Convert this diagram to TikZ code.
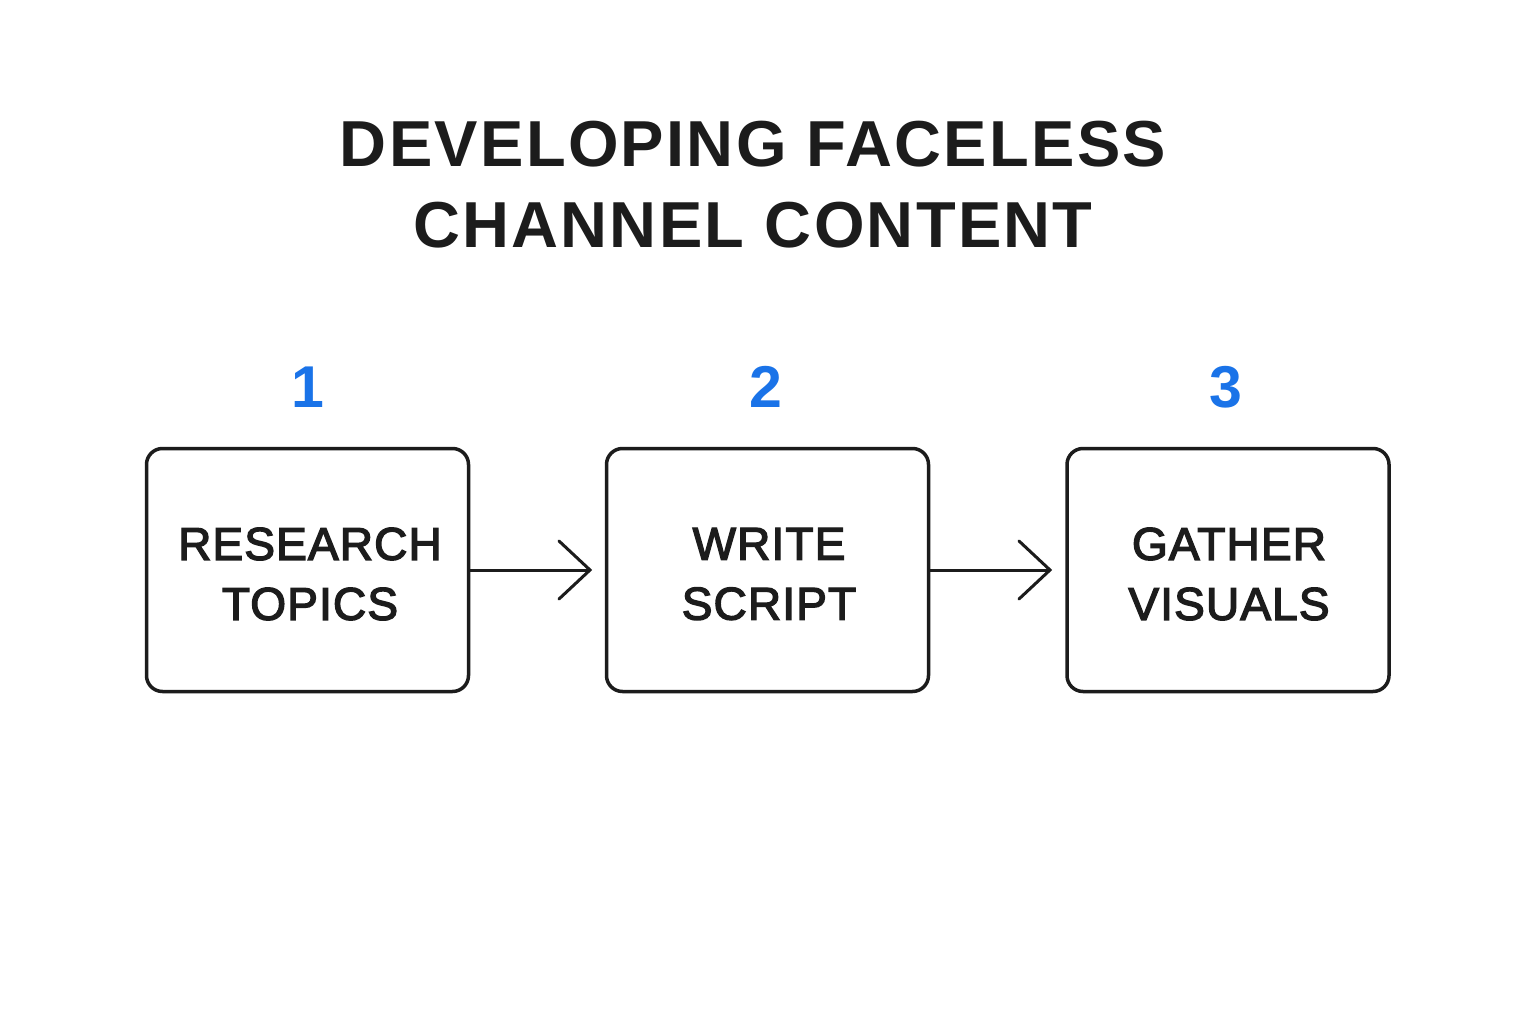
\documentclass[tikz,border=0pt]{standalone}
\usepackage{fontspec}
\setmainfont{Liberation Sans}
\definecolor{ink}{HTML}{1C1C1C}
\definecolor{stepblue}{HTML}{1A73E8}
\begin{document}
\begin{tikzpicture}[x=1pt,y=-1pt,
  box/.style={draw=ink,line width=3.5pt,rounded corners=16pt,minimum width=322pt,minimum height=243pt,inner sep=0pt},
  boxtext/.style={text=ink,inner sep=0pt,font=\fontsize{46}{60}\selectfont\addfontfeature{FakeBold=3,LetterSpace=2.5},align=center},
  num/.style={text=stepblue,inner sep=0pt,font=\bfseries\fontsize{59}{59}\selectfont},
  link/.style={draw=ink,line width=3pt},
  head/.style={draw=ink,line width=3pt,line cap=round,line join=miter},
  title/.style={text=ink,inner sep=0pt,font=\bfseries\fontsize{65}{81}\selectfont\addfontfeature{LetterSpace=3.5},align=center}]
\useasboundingbox (0,0) rectangle (1536,1024);
\fill[white] (0,0) rectangle (1536,1024);
\node[title] (t) at (753,185) {DEVELOPING FACELESS\\CHANNEL CONTENT};
\node[box] (b1) at (307.5,570) {};
\node[box] (b2) at (767.5,570) {};
\node[box] (b3) at (1228,570) {};
\node[boxtext] (l1) at (310,574) {RESEARCH\\TOPICS};
\node[boxtext] (l2) at (769,574) {WRITE\\SCRIPT};
\node[boxtext] (l3) at (1229,574) {GATHER\\VISUALS};
\node[num] (n1) at (308,387) {1};
\node[num] (n2) at (766,387) {2};
\node[num] (n3) at (1226,387) {3};
\coordinate (a1) at (590,570);
\coordinate (a2) at (1050,570);
\draw[link] (b1.east) -- (a1);
\draw[link] (b2.east) -- (a2);
\draw[head] ([shift={(-31,-29)}]a1) -- (a1) -- ([shift={(-31,29)}]a1);
\draw[head] ([shift={(-31,-29)}]a2) -- (a2) -- ([shift={(-31,29)}]a2);
\end{tikzpicture}
\end{document}
